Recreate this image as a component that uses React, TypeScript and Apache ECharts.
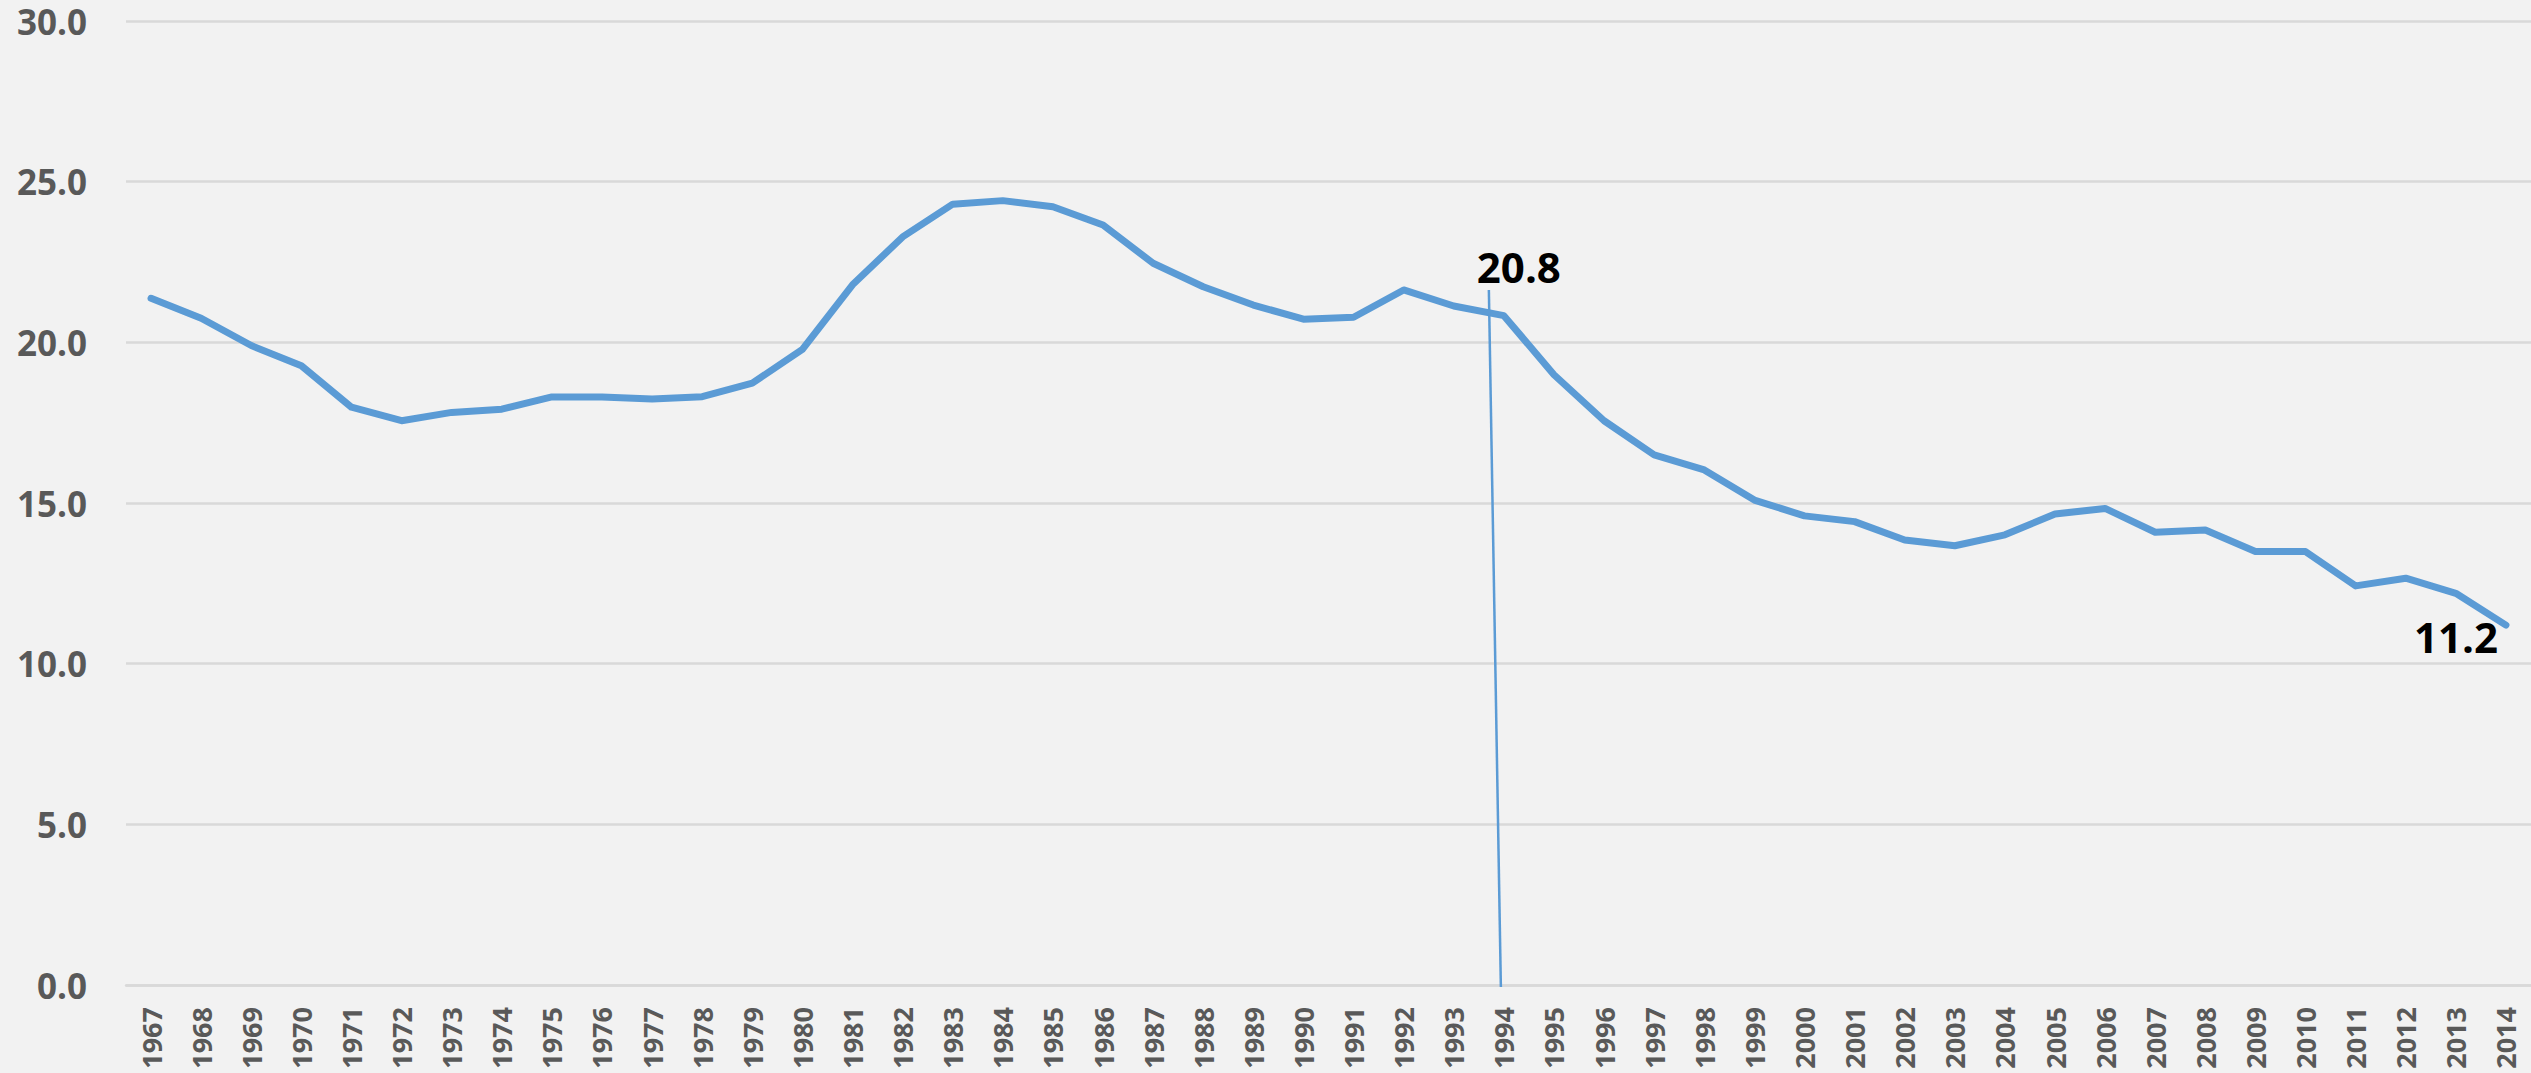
import React, { useEffect, useRef } from "react";
import * as echarts from "echarts";

const years: string[] = [
  "1967", "1968", "1969", "1970", "1971", "1972", "1973", "1974", "1975", "1976",
  "1977", "1978", "1979", "1980", "1981", "1982", "1983", "1984", "1985", "1986",
  "1987", "1988", "1989", "1990", "1991", "1992", "1993", "1994", "1995", "1996",
  "1997", "1998", "1999", "2000", "2001", "2002", "2003", "2004", "2005", "2006",
  "2007", "2008", "2009", "2010", "2011", "2012", "2013", "2014",
];

const values: number[] = [
  21.37, 20.75, 19.9, 19.27, 17.98, 17.56, 17.82, 17.92, 18.3, 18.3,
  18.24, 18.31, 18.73, 19.78, 21.79, 23.28, 24.3, 24.41, 24.22, 23.65,
  22.46, 21.73, 21.16, 20.72, 20.78, 21.63, 21.13, 20.83, 18.99, 17.56,
  16.5, 16.03, 15.09, 14.6, 14.42, 13.85, 13.67, 14.01, 14.66, 14.83,
  14.09, 14.16, 13.49, 13.49, 12.42, 12.66, 12.19, 11.2,
];

const yTicks: number[] = [0, 5, 10, 15, 20, 25, 30];

const markerYear = "1994";
const markerTopValue = 21.63;
const lastYear = "2014";

const FONT = "'Open Sans', 'Liberation Sans', sans-serif";
const LINE_COLOR = "#5B9BD5";
const TEXT_GRAY = "#595959";
const GRID_COLOR = "#D9D9D9";

export default function App() {
  const ref = useRef<HTMLDivElement>(null);

  useEffect(() => {
    if (!ref.current) return;
    const chart = echarts.init(ref.current, null, { renderer: "svg" });

    const labelBase = {
      show: true,
      distance: 5,
      formatter: (p: any) => Number(p.value).toFixed(1),
      fontSize: 42,
      lineHeight: 42,
      fontWeight: "bold",
      fontFamily: FONT,
      color: "#000000",
    };

    const seriesData = values.map((v, i) => {
      if (years[i] === markerYear) {
        return { value: v, label: { ...labelBase, position: "top", offset: [15, -23] } };
      }
      if (years[i] === lastYear) {
        return { value: v, label: { ...labelBase, position: "left", offset: [-3, 11] } };
      }
      return { value: v, label: { show: false } };
    });

    chart.setOption({
      animation: false,
      backgroundColor: "#F2F2F2",
      grid: { left: 126, right: 0, top: 21, bottom: 88, containLabel: false },
      xAxis: {
        type: "category",
        data: years,
        boundaryGap: true,
        axisLine: { show: true, lineStyle: { color: GRID_COLOR, width: 2.5 } },
        axisTick: { show: false },
        axisLabel: {
          interval: 0,
          rotate: 90,
          margin: 22,
          fontSize: 27,
          fontWeight: "bold",
          fontFamily: FONT,
          color: TEXT_GRAY,
        },
      },
      yAxis: {
        type: "value",
        min: yTicks[0],
        max: yTicks[yTicks.length - 1],
        interval: yTicks[1] - yTicks[0],
        axisLine: { show: false },
        axisTick: { show: false },
        splitLine: { show: true, lineStyle: { color: GRID_COLOR, width: 2.5 } },
        axisLabel: {
          margin: 39,
          fontSize: 35,
          lineHeight: 28,
          fontWeight: "bold",
          fontFamily: FONT,
          color: TEXT_GRAY,
          formatter: (v: number) => v.toFixed(1),
        },
      },
      series: [
        {
          type: "line",
          data: seriesData,
          symbol: "circle",
          symbolSize: 0,
          showSymbol: true,
          lineStyle: { color: LINE_COLOR, width: 7, cap: "round", join: "round" },
          itemStyle: { color: LINE_COLOR },
          label: { show: false },
          z: 3,
        },
      ],
    });

    const idx = years.indexOf(markerYear);
    const top = chart.convertToPixel({ gridIndex: 0 }, [idx, markerTopValue]) as number[];
    const bottom = chart.convertToPixel({ gridIndex: 0 }, [idx, 0]) as number[];
    if (top && bottom) {
      chart.setOption({
        graphic: [
          {
            type: "line",
            shape: { x1: top[0] - 15, y1: top[1], x2: bottom[0] - 3, y2: bottom[1] + 2 },
            style: { stroke: LINE_COLOR, lineWidth: 2.5 },
            z: 10,
          },
        ],
      });
    }

    return () => {
      chart.dispose();
    };
  }, []);

  return (
    <div
      ref={ref}
      style={{ position: "fixed", left: 0, top: 0, width: 2531, height: 1073 }}
    />
  );
}
